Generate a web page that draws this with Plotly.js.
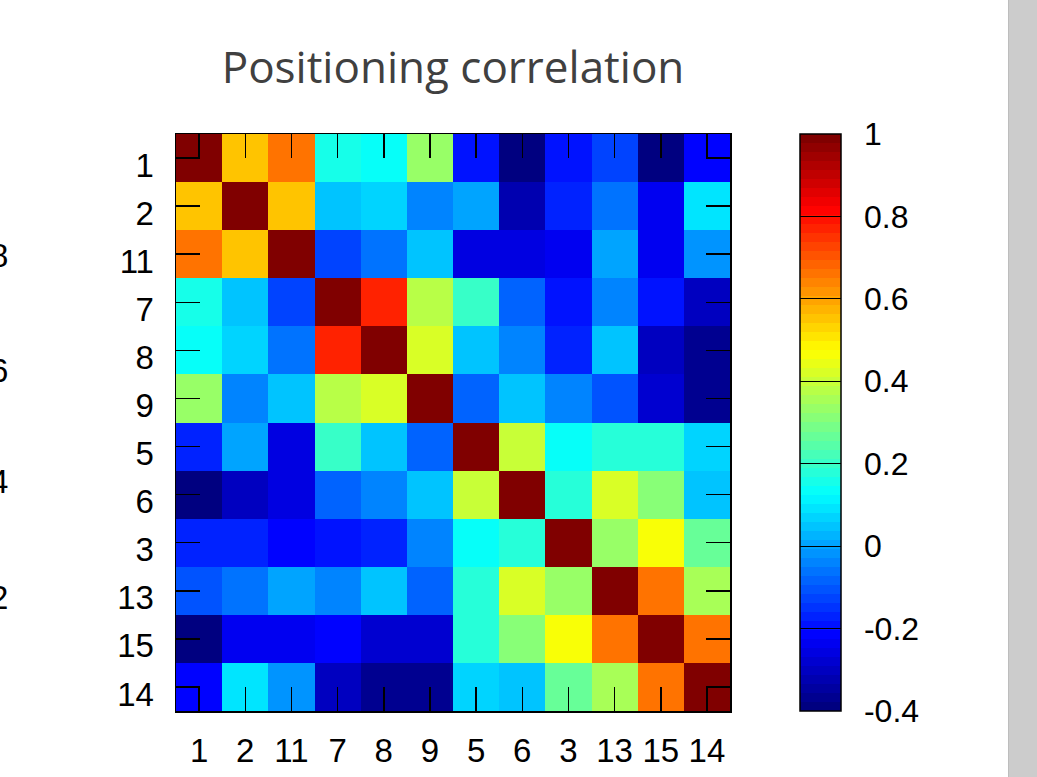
<!DOCTYPE html>
<html>
<head>
<meta charset="utf-8">
<script src="https://cdn.plot.ly/plotly-3.0.1.min.js"></script>
<style>
  html, body { margin: 0; padding: 0; background: #ffffff; overflow: hidden; }
  #chart { position: absolute; left: 0; top: 0; width: 1037px; height: 777px; }
  #side { position: absolute; left: 1008px; top: 0; width: 29px; height: 777px; background: #cccccc; border-left: 1px solid #bdbdbd; box-sizing: border-box; }
</style>
</head>
<body>
<div id="chart"></div>
<div id="side"></div>
<script>
// Position order used for both axes
const positions = ['1', '2', '11', '7', '8', '9', '5', '6', '3', '13', '15', '14'];

// Correlation rows (top to bottom, same order as positions)
const row_1  = [1.00, 0.56, 0.65, 0.16, 0.13, 0.33, -0.19, -0.39, -0.19, -0.12, -0.40, -0.21];
const row_2  = [0.56, 1.00, 0.56, 0.05, 0.07, -0.04, 0.015, -0.33, -0.18, -0.07, -0.23, 0.09];
const row_11 = [0.65, 0.56, 1.00, -0.12, -0.07, 0.05, -0.26, -0.26, -0.23, 0.00, -0.23, -0.026];
const row_7  = [0.16, 0.05, -0.12, 1.00, 0.76, 0.38, 0.20, -0.09, -0.20, -0.03, -0.20, -0.30];
const row_8  = [0.13, 0.07, -0.07, 0.76, 1.00, 0.42, 0.04, -0.05, -0.17, 0.04, -0.30, -0.375];
const row_9  = [0.33, -0.04, 0.05, 0.38, 0.42, 1.00, -0.09, 0.04, -0.05, -0.10, -0.27, -0.37];
const row_5  = [-0.18, 0.01, -0.25, 0.20, 0.04, -0.09, 1.00, 0.40, 0.13, 0.18, 0.18, 0.07];
const row_6  = [-0.39, -0.30, -0.25, -0.09, -0.04, 0.05, 0.40, 1.00, 0.18, 0.42, 0.32, 0.04];
const row_3  = [-0.18, -0.17, -0.21, -0.20, -0.17, -0.05, 0.13, 0.18, 1.00, 0.33, 0.47, 0.265];
const row_13 = [-0.11, -0.06, 0.00, -0.03, 0.04, -0.09, 0.18, 0.42, 0.33, 1.00, 0.65, 0.36];
const row_15 = [-0.40, -0.23, -0.23, -0.21, -0.29, -0.28, 0.18, 0.32, 0.47, 0.65, 1.00, 0.65];
const row_14 = [-0.21, 0.09, -0.02, -0.30, -0.37, -0.37, 0.07, 0.04, 0.265, 0.36, 0.65, 1.00];

const zValues = [row_1, row_2, row_11, row_7, row_8, row_9, row_5, row_6, row_3, row_13, row_15, row_14];

// Colour bar tick values
const cbTicks = [-0.4, -0.2, 0, 0.2, 0.4, 0.6, 0.8, 1];
const cbTickText = ['-0.4', '-0.2', '0', '0.2', '0.4', '0.6', '0.8', '1'];

// Cut-off labels of a neighbouring chart at the left edge
const edgeLabels = ['8', '6', '4', '2'];
const edgeLabelY = [0.790, 0.590, 0.398, 0.196];

// Discrete 64-level jet colour scale
function clamp(v) { return Math.max(0, Math.min(1, v)); }
function jet(t) {
  const r = clamp(1.5 - Math.abs(4 * t - 3));
  const g = clamp(1.5 - Math.abs(4 * t - 2));
  const b = clamp(1.5 - Math.abs(4 * t - 1));
  return 'rgb(' + Math.round(r * 255) + ',' + Math.round(g * 255) + ',' + Math.round(b * 255) + ')';
}
const N = 64;
const jetScale = [];
for (let i = 0; i < N; i++) {
  const c = jet(i / (N - 1));
  jetScale.push([i / N, c]);
  jetScale.push([(i + 1) / N, c]);
}

const FAM = '"Liberation Sans", Arial, Helvetica, sans-serif';
const tickFont = { family: FAM, size: 33, color: '#000000' };
const PAD = '\u00a0\u2009';

const trace = {
  type: 'heatmap',
  x: positions,
  y: positions,
  z: zValues,
  zmin: -0.4,
  zmax: 1,
  colorscale: jetScale,
  xgap: 0,
  ygap: 0,
  colorbar: {
    x: 1.126,
    xanchor: 'left',
    xref: 'paper',
    y: 0.5,
    yanchor: 'middle',
    len: 1,
    lenmode: 'fraction',
    thickness: 41,
    thicknessmode: 'pixels',
    outlinewidth: 1.5,
    outlinecolor: '#000000',
    borderwidth: 0,
    xpad: 0,
    ypad: 0,
    tickmode: 'array',
    tickvals: cbTicks,
    ticktext: cbTickText.map(t => PAD + t),
    ticks: 'inside',
    ticklen: 41,
    tickwidth: 1.2,
    tickcolor: '#000000',
    ticklabelposition: 'outside',
    tickfont: { family: FAM, size: 32, color: '#000000' }
  }
};

const annotations = edgeLabels.map((t, i) => ({
  text: t,
  xref: 'paper',
  yref: 'paper',
  x: -0.300,
  y: edgeLabelY[i],
  xanchor: 'right',
  yanchor: 'middle',
  showarrow: false,
  font: { family: FAM, size: 33, color: '#000000' }
}));

const layout = {
  width: 1037,
  height: 777,
  margin: { l: 176, r: 307, t: 134, b: 66, pad: 0 },
  paper_bgcolor: '#ffffff',
  plot_bgcolor: '#ffffff',
  title: {
    text: 'Positioning correlation',
    x: 0.5,
    xref: 'paper',
    xanchor: 'center',
    y: 1 - 68 / 777,
    yref: 'container',
    yanchor: 'middle',
    font: { family: '"Open Sans", Lato, sans-serif', size: 44, color: '#404040' }
  },
  xaxis: {
    type: 'category',
    categoryorder: 'array',
    categoryarray: positions,
    ticks: 'inside',
    ticklen: 24,
    tickwidth: 1.5,
    tickcolor: '#000000',
    showline: true,
    linecolor: '#000000',
    linewidth: 1.5,
    mirror: 'ticks',
    showgrid: false,
    zeroline: false,
    tickfont: tickFont,
    ticklabelstandoff: 10,
    tickangle: 0,
    fixedrange: true
  },
  yaxis: {
    type: 'category',
    categoryorder: 'array',
    categoryarray: positions,
    autorange: 'reversed',
    ticks: 'inside',
    ticklen: 24,
    tickwidth: 1.5,
    tickcolor: '#000000',
    showline: true,
    linecolor: '#000000',
    linewidth: 1.5,
    mirror: 'ticks',
    showgrid: false,
    zeroline: false,
    tickfont: tickFont,
    ticklabelstandoff: 14,
    ticklabelshift: -7,
    fixedrange: true
  },
  annotations: annotations
};

Plotly.newPlot('chart', [trace], layout, { displayModeBar: false, staticPlot: true });
</script>
</body>
</html>
